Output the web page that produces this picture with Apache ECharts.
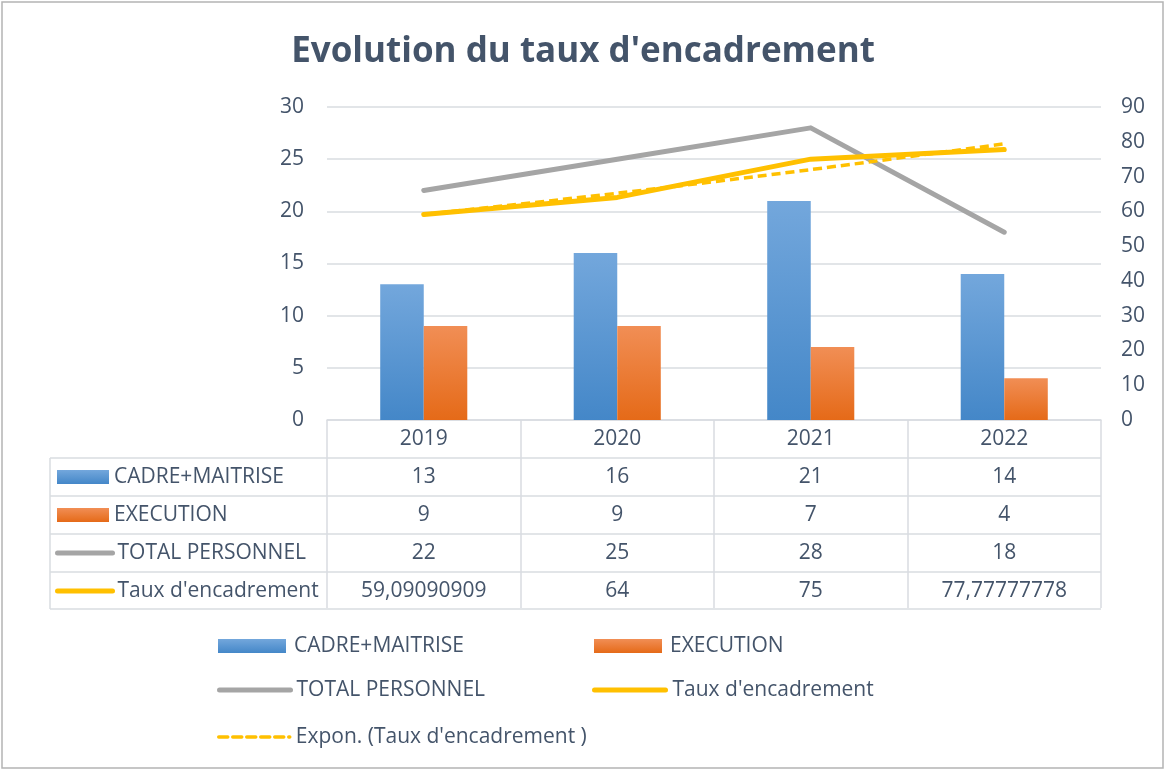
<!DOCTYPE html>
<html lang="fr">
<head>
<meta charset="UTF-8">
<title>Evolution du taux d'encadrement</title>
<script src="https://cdn.jsdelivr.net/npm/echarts@6/dist/echarts.min.js"></script>
</head>
<body style="margin:0">
<div id="main" style="width:1166px;height:771px"></div>
<script>
// donnees
var annees = ['2019', '2020', '2021', '2022'];
var cadre = [13, 16, 21, 14];
var execution = [9, 9, 7, 4];
var total = [22, 25, 28, 18];
var taux = [59.09090909, 64, 75, 77.77777778];
var tauxExpon = [59.1, 65.2, 72.0, 79.4]; // courbe de tendance expo

var gauche = [0, 5, 10, 15, 20, 25, 30];
var droite = [0, 10, 20, 30, 40, 50, 60, 70, 80, 90];

var texte = '#44546A';
var trait = '#D9DCE1';
var police = 'Open Sans';
var taille = 21;

function fr(v) {
    return String(v).replace('.', ',');
}

var bleu = new echarts.graphic.LinearGradient(0, 0, 0, 1, [
    {offset: 0, color: '#73A7DC'}, {offset: 1, color: '#4487C8'}
]);
var orange = new echarts.graphic.LinearGradient(0, 0, 0, 1, [
    {offset: 0, color: '#F18E55'}, {offset: 1, color: '#E56A18'}
]);

var noms = ['CADRE+MAITRISE', 'EXECUTION', 'TOTAL PERSONNEL', "Taux d'encadrement", "Expon. (Taux d'encadrement )"];

// une legende par element, placee a la main
function legende(nom, icone, x, yc, larg, ecart) {
    var d = {name: nom};
    var l = {
        data: [d],
        left: x,
        top: yc - 13,
        padding: 0,
        itemWidth: larg,
        itemHeight: 14,
        selectedMode: false,
        textStyle: {color: texte, fontSize: taille, fontFamily: police, lineHeight: 26, padding: [0, 0, 0, ecart]}
    };
    if (icone) {
        d.icon = icone;
    } else {
        // trait seul, sans symbole
        l.lineStyle = {width: 'inherit', cap: 'round'};
        l.itemStyle = {opacity: 0};
    }
    return l;
}

var rangs = [477, 515, 553, 591];

var myChart = echarts.init(document.getElementById('main'));
var option = {
    backgroundColor: '#fff',
    animation: false,
    title: {
        text: "Evolution du taux d'encadrement",
        left: 'center',
        top: 30,
        textStyle: {color: texte, fontSize: 35, fontWeight: 'bold', fontFamily: police}
    },
    legend: [
        legende(noms[0], 'rect', 57, rangs[0], 52, 0),
        legende(noms[1], 'rect', 57, rangs[1], 52, 0),
        legende(noms[2], null, 55, rangs[2], 55, 0),
        legende(noms[3], null, 55, rangs[3], 55, 0),
        legende(noms[0], 'rect', 218, 646, 68, 3),
        legende(noms[1], 'rect', 594, 646, 68, 3),
        legende(noms[2], null, 217, 690, 71, 1),
        legende(noms[3], null, 592, 690, 71, 2),
        legende(noms[4], null, 217, 737, 71, 1)
    ],
    grid: {left: 327, right: 65, top: 107, height: 313, containLabel: false},
    xAxis: {
        type: 'category',
        data: annees,
        axisLine: {lineStyle: {color: trait, width: 1.5}},
        axisTick: {show: true, length: 188, lineStyle: {color: trait, width: 1.5}},
        axisLabel: {
            margin: 0,
            color: texte,
            fontSize: taille,
            fontFamily: police,
            lineHeight: 38,
            formatter: function (v, i) {
                return [v, cadre[i], execution[i], total[i], fr(taux[i])].join('\n');
            }
        }
    },
    yAxis: [{
        type: 'value',
        min: gauche[0],
        max: gauche[gauche.length - 1],
        interval: 5,
        axisLine: {show: false},
        axisTick: {show: false},
        axisLabel: {margin: 23, color: texte, fontSize: taille, fontFamily: police},
        splitLine: {lineStyle: {color: trait, width: 1.5}}
    }, {
        type: 'value',
        min: droite[0],
        max: droite[droite.length - 1],
        interval: 10,
        axisLine: {show: false},
        axisTick: {show: false},
        axisLabel: {margin: 20, color: texte, fontSize: taille, fontFamily: police},
        splitLine: {show: false}
    }],
    series: [{
        name: noms[0],
        type: 'bar',
        data: cadre,
        barWidth: '22.5%',
        barGap: '0%',
        itemStyle: {color: bleu}
    }, {
        name: noms[1],
        type: 'bar',
        data: execution,
        barWidth: '22.5%',
        barGap: '0%',
        itemStyle: {color: orange}
    }, {
        name: noms[2],
        type: 'line',
        data: total,
        symbol: 'none',
        z: 3,
        lineStyle: {color: '#A5A5A5', width: 5, cap: 'round', join: 'round'},
        itemStyle: {color: '#A5A5A5'}
    }, {
        name: noms[3],
        type: 'line',
        yAxisIndex: 1,
        data: taux,
        symbol: 'none',
        z: 4,
        lineStyle: {color: '#FFC000', width: 5, cap: 'round', join: 'round'},
        itemStyle: {color: '#FFC000'}
    }, {
        name: noms[4],
        type: 'line',
        yAxisIndex: 1,
        data: tauxExpon,
        symbol: 'none',
        smooth: 0.3,
        z: 4,
        lineStyle: {color: '#FFC000', width: 3.5, type: [9, 5]},
        itemStyle: {color: '#FFC000'}
    }],
    graphic: [
        {type: 'rect', shape: {x: 2, y: 2, width: 1161, height: 766}, style: {fill: 'none', stroke: '#B4B4B4', lineWidth: 1.5}, silent: true},
        {type: 'line', shape: {x1: 50, y1: 458, x2: 1101, y2: 458}, style: {stroke: trait, lineWidth: 1.5}},
        {type: 'line', shape: {x1: 50, y1: 496, x2: 1101, y2: 496}, style: {stroke: trait, lineWidth: 1.5}},
        {type: 'line', shape: {x1: 50, y1: 534, x2: 1101, y2: 534}, style: {stroke: trait, lineWidth: 1.5}},
        {type: 'line', shape: {x1: 50, y1: 572, x2: 1101, y2: 572}, style: {stroke: trait, lineWidth: 1.5}},
        {type: 'line', shape: {x1: 50, y1: 609, x2: 1101, y2: 609}, style: {stroke: trait, lineWidth: 1.5}},
        {type: 'line', shape: {x1: 50, y1: 458, x2: 50, y2: 609}, style: {stroke: trait, lineWidth: 1.5}}
    ]
};
myChart.setOption(option);
</script>
</body>
</html>
